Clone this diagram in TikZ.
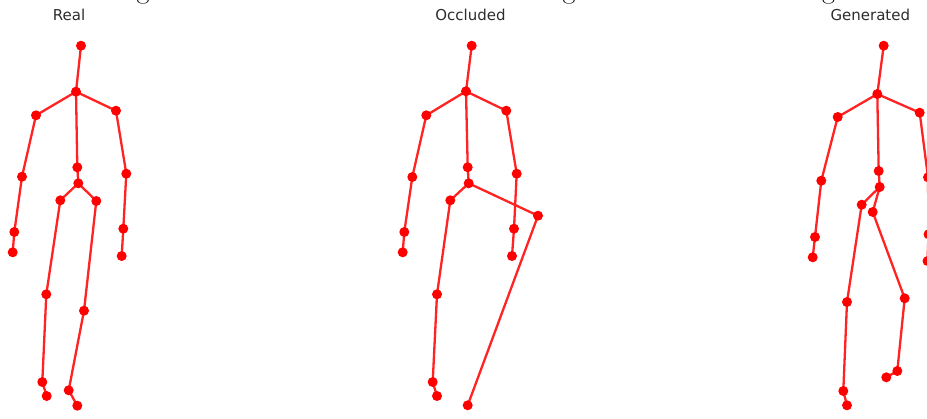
\documentclass[tikz,border=0pt]{standalone}
\usepackage{fontspec}
\newfontfamily\dejavu{DejaVu Sans}
\definecolor{boneRed}{RGB}{255,35,35}
\definecolor{titleGray}{RGB}{45,45,45}
\begin{document}
\begin{tikzpicture}[x=1pt,y=-1pt,
  bone/.style={draw=boneRed, line width=2.3pt, line cap=round, line join=round},
  joint/.style={circle, fill=red, inner sep=0pt, minimum size=10pt},
  paneltitle/.style={anchor=base, text=titleGray, font=\dejavu\fontsize{15}{17}\selectfont, inner sep=0pt},
  cutglyph/.style={anchor=base, inner sep=0pt, font=\fontsize{28}{30}\selectfont}]
\useasboundingbox (0,0) rectangle (927,418);
\clip (0,0) rectangle (927,418);
\fill[white] (0,0) rectangle (927,418);

% cut-off title glyphs at the top edge
\node[cutglyph] (g1) at (143,-1.2) {g};
\node[cutglyph] (g2) at (569,-1.2) {g};
\node[cutglyph] (g3) at (828.5,-1.2) {g};

% panel titles
\node[paneltitle] (t-real) at (69,20) {Real};
\node[paneltitle] (t-occ) at (470.5,20) {Occluded};
\node[paneltitle] (t-gen) at (870.3,20) {Generated};

% ---------------- Real ----------------
\coordinate (r-head) at (81,45.7);
\coordinate (r-neck) at (76,91.7);
\coordinate (r-lsh) at (36,115.3);
\coordinate (r-rsh) at (116,110.7);
\coordinate (r-lelb) at (22,176.7);
\coordinate (r-relb) at (126.3,173.7);
\coordinate (r-lwr) at (14.3,232);
\coordinate (r-lhd) at (12.7,252.3);
\coordinate (r-rwr) at (123.3,228.7);
\coordinate (r-rhd) at (121.7,256);
\coordinate (r-spine) at (77.3,167.3);
\coordinate (r-pelv) at (78.3,183.3);
\coordinate (r-lhip) at (60.3,200.3);
\coordinate (r-rhip) at (96.3,201);
\coordinate (r-lkn) at (46.3,294.3);
\coordinate (r-rkn) at (84,310.7);
\coordinate (r-lank) at (42.3,382);
\coordinate (r-lft) at (46.7,396);
\coordinate (r-rank) at (68.7,390.3);
\coordinate (r-rft) at (77.3,405.7);

% ---------------- Occluded ----------------
\coordinate (o-head) at (471.7,45.7);
\coordinate (o-neck) at (466,91.3);
\coordinate (o-lsh) at (426.3,115.3);
\coordinate (o-rsh) at (506.3,110.7);
\coordinate (o-lelb) at (412.3,177);
\coordinate (o-relb) at (516.7,173.7);
\coordinate (o-lwr) at (404.3,232);
\coordinate (o-lhd) at (402.7,252.3);
\coordinate (o-rwr) at (514,228.7);
\coordinate (o-rhd) at (512,256);
\coordinate (o-spine) at (467.7,167.3);
\coordinate (o-pelv) at (468.7,183.3);
\coordinate (o-lhip) at (450.3,200.3);
\coordinate (o-rhip) at (538,215.7);
\coordinate (o-lkn) at (437,294.3);
\coordinate (o-lank) at (432.7,382);
\coordinate (o-lft) at (437,396);
\coordinate (o-rft) at (467.7,405.3);

% ---------------- Generated ----------------
\coordinate (g-head) at (883.7,45.7);
\coordinate (g-neck) at (877.3,94);
\coordinate (g-lsh) at (837.7,117);
\coordinate (g-rsh) at (919.7,112.7);
\coordinate (g-lelb) at (821.3,180.7);
\coordinate (g-relb) at (928,177.3);
\coordinate (g-lwr) at (815,237);
\coordinate (g-lhd) at (812.7,257.3);
\coordinate (g-rwr) at (928.5,234.3);
\coordinate (g-rhd) at (927.5,261);
\coordinate (g-spine) at (878.7,171);
\coordinate (g-pelv) at (879.7,187);
\coordinate (g-lhip) at (861.7,204.7);
\coordinate (g-rhip) at (872.7,212);
\coordinate (g-lkn) at (847,302);
\coordinate (g-rkn) at (904.7,298.3);
\coordinate (g-lank) at (843.3,391);
\coordinate (g-lft) at (847,405.3);
\coordinate (g-rank) at (897.3,371);
\coordinate (g-rft) at (886.3,377.3);

% bones for full skeletons
\foreach \s in {r,g}{
  \draw[bone] (\s-head) -- (\s-neck);
  \draw[bone] (\s-neck) -- (\s-lsh) -- (\s-lelb) -- (\s-lwr) -- (\s-lhd);
  \draw[bone] (\s-neck) -- (\s-rsh) -- (\s-relb) -- (\s-rwr) -- (\s-rhd);
  \draw[bone] (\s-neck) -- (\s-spine) -- (\s-pelv);
  \draw[bone] (\s-pelv) -- (\s-lhip) -- (\s-lkn) -- (\s-lank) -- (\s-lft);
  \draw[bone] (\s-pelv) -- (\s-rhip) -- (\s-rkn) -- (\s-rank) -- (\s-rft);
}
% occluded skeleton
\draw[bone] (o-head) -- (o-neck);
\draw[bone] (o-neck) -- (o-lsh) -- (o-lelb) -- (o-lwr) -- (o-lhd);
\draw[bone] (o-neck) -- (o-rsh) -- (o-relb) -- (o-rwr) -- (o-rhd);
\draw[bone] (o-neck) -- (o-spine) -- (o-pelv);
\draw[bone] (o-pelv) -- (o-lhip) -- (o-lkn) -- (o-lank) -- (o-lft);
\draw[bone] (o-pelv) -- (o-rhip) -- (o-rft);

% joints
\foreach \s in {r,g}{
  \foreach \j in {head,neck,lsh,rsh,lelb,relb,lwr,lhd,rwr,rhd,spine,pelv,lhip,rhip,lkn,rkn,lank,lft,rank,rft}
    \node[joint] (\s-dot-\j) at (\s-\j) {};
}
\foreach \j in {head,neck,lsh,rsh,lelb,relb,lwr,lhd,rwr,rhd,spine,pelv,lhip,rhip,lkn,lank,lft,rft}
  \node[joint] (o-dot-\j) at (o-\j) {};
\end{tikzpicture}
\end{document}
